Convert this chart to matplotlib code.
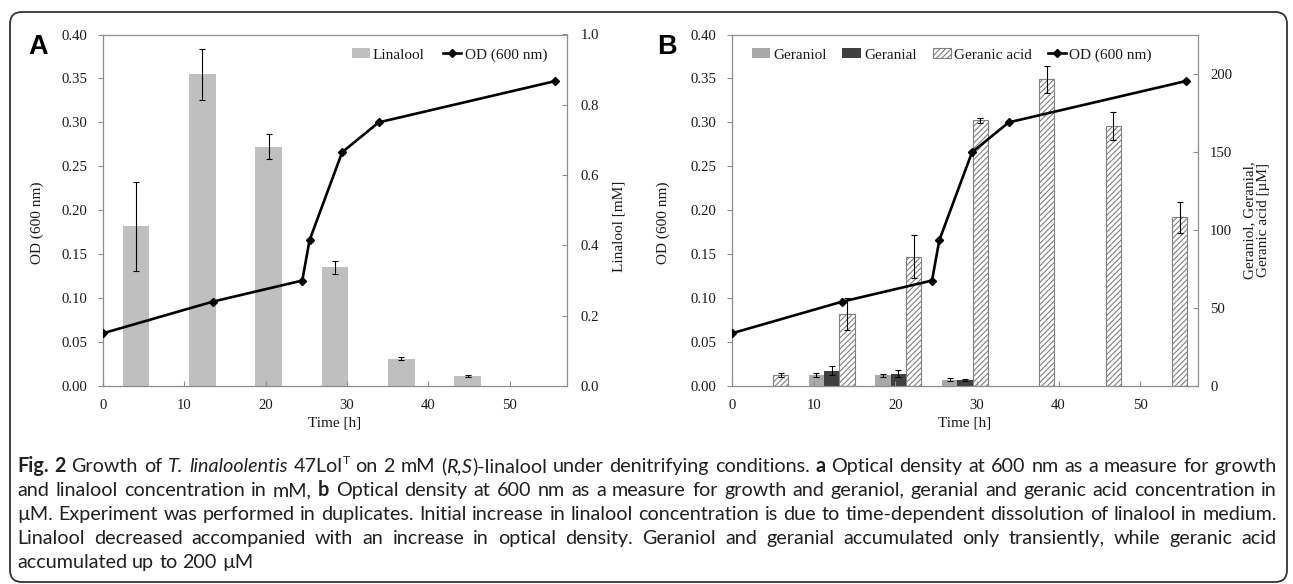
import numpy as np
import matplotlib.pyplot as plt
from matplotlib.patches import FancyBboxPatch, Patch
from matplotlib.lines import Line2D
from matplotlib.ticker import FormatStrFormatter, MultipleLocator
from matplotlib.transforms import IdentityTransform

# OD (600 nm) - same culture shown in both panels
od_time = [0, 13.5, 24.5, 25.4, 29.4, 33.9, 55.6]
od_value = [0.060, 0.096, 0.120, 0.166, 0.266, 0.300, 0.347]

# panel A: linalool [mM], one bar per sampling slot (7 slots, last one empty)
n_slots = 7
lin_slot = [0, 1, 2, 3, 4, 5]
lin_mM = [0.454, 0.887, 0.681, 0.338, 0.078, 0.028]
lin_err = [0.127, 0.073, 0.036, 0.019, 0.004, 0.003]

# panel B: concentrations [uM] per slot, nan = not detected
b_slot = [0, 1, 2, 3, 4, 5, 6]
nan = np.nan
geraniol = [nan, 6.9, 6.9, 4.1, nan, nan, nan]
geraniol_err = [nan, 1.2, 0.9, 0.8, nan, nan, nan]
geranial = [nan, 9.8, 7.9, 3.9, nan, nan, nan]
geranial_err = [nan, 2.8, 2.2, 0.5, nan, nan, nan]
geranic_acid = [6.9, 46.0, 83.0, 170.3, 196.6, 166.7, 108.1]
geranic_acid_err = [1.2, 10.3, 13.8, 1.6, 8.4, 9.0, 10.2]

caption = [
    "#Fig. 2# Growth of _T. linaloolentis_ 47Lol^T on 2 mM (_R,S_)-linalool under denitrifying conditions. #a# Optical density at 600 nm as a measure for growth",
    "and linalool concentration in mM, #b# Optical density at 600 nm as a measure for growth and geraniol, geranial and geranic acid concentration in",
    "µM. Experiment was performed in duplicates. Initial increase in linalool concentration is due to time-dependent dissolution of linalool in medium.",
    "Linalool decreased accompanied with an increase in optical density. Geraniol and geranial accumulated only transiently, while geranic acid",
    "accumulated up to 200 µM",
]

spine_c = '#8c8c8c'
txt_c = '#1a1a1a'
plt.rcParams['font.family'] = ['Liberation Serif', 'DejaVu Serif']
plt.rcParams['font.size'] = 11
plt.rcParams['xtick.labelsize'] = 10.6
plt.rcParams['ytick.labelsize'] = 10.6
plt.rcParams['hatch.linewidth'] = 0.8
plt.rcParams['text.color'] = txt_c
plt.rcParams['axes.labelcolor'] = txt_c
plt.rcParams['xtick.color'] = spine_c
plt.rcParams['ytick.color'] = spine_c
plt.rcParams['xtick.labelcolor'] = txt_c
plt.rcParams['ytick.labelcolor'] = txt_c

W, H = 1293, 584
fig = plt.figure(figsize=(W / 100, H / 100), dpi=100)
fig.patch.set_facecolor('white')


def make_panel(left_px, right_px):
    top_px, bot_px = 34.5, 386
    rect = [left_px / W, 1 - bot_px / H, (right_px - left_px) / W, (bot_px - top_px) / H]
    ax = fig.add_axes(rect)
    ax_r = ax.twinx()
    ax_c = ax_r.twiny()
    ax.set_zorder(ax_c.get_zorder() + 1)
    ax.patch.set_visible(False)
    for a in (ax_r, ax_c):
        for s in a.spines.values():
            s.set_visible(False)
    for s in ax.spines.values():
        s.set_color(spine_c)
        s.set_linewidth(0.9)
    ax_c.set_xlim(-0.5, n_slots - 0.5)
    ax_c.set_xticks([])

    ax.plot(od_time, od_value, color='black', lw=1.9, marker='D', ms=3.8, zorder=5)
    ax.set_xlim(0, 57.05)
    ax.set_ylim(0, 0.40)
    ax.set_xticks(range(0, 51, 10))
    ax.yaxis.set_major_locator(MultipleLocator(0.05))
    ax.yaxis.set_major_formatter(FormatStrFormatter('%.2f'))
    ax.tick_params(axis='y', direction='out', length=3.5, width=0.8, pad=7.5)
    ax.tick_params(axis='x', direction='in', length=3.5, width=0.8, pad=9.5)
    ax_r.tick_params(axis='y', direction='in', length=3.5, width=0.8, pad=10)
    ax.set_xlabel('Time [h]')
    ax.xaxis.set_label_coords(0.5, -0.086)
    ax.set_ylabel('OD (600 nm)')
    return ax, ax_r, ax_c


# ---- panel A ----
axA, axA_r, axA_c = make_panel(103, 567)
axA_c.bar(lin_slot, lin_mM, width=0.4, color='#bfbfbf', zorder=2)
axA_c.errorbar(lin_slot, lin_mM, yerr=lin_err, fmt='none', ecolor='black',
               elinewidth=0.8, capsize=2.2, capthick=0.8, zorder=3)
axA_r.set_ylim(0, 1.0)
axA_r.yaxis.set_major_locator(MultipleLocator(0.2))
axA_r.yaxis.set_major_formatter(FormatStrFormatter('%.1f'))
axA_r.set_ylabel('Linalool [mM]')
axA_r.yaxis.set_label_coords(1.098, 0.455)
axA.yaxis.set_label_coords(-0.128, 0.465)
axA.legend(handles=[Patch(facecolor='#bfbfbf', label='Linalool'),
                    Line2D([], [], color='black', lw=1.9, marker='D', ms=3.8, label='OD (600 nm)')],
           loc='center right', bbox_to_anchor=(0.957, 0.9417), ncol=2, frameon=False,
           borderpad=0, borderaxespad=0, handlelength=1.2, handleheight=0.6,
           handletextpad=0.2, columnspacing=1.2)

# ---- panel B ----
axB, axB_r, axB_c = make_panel(732, 1197.7)
bw = 0.23
xs = np.array(b_slot, dtype=float)
axB_c.bar(xs - bw, geraniol, width=bw, color='#a9a9a9', zorder=2)
axB_c.bar(xs, geranial, width=bw, color='#404040', zorder=2)
axB_c.bar(xs + bw, geranic_acid, width=bw, color='white', edgecolor='#808080',
          hatch='//////', linewidth=0.8, zorder=2)
for off, v, e in ((-bw, geraniol, geraniol_err), (0, geranial, geranial_err),
                  (bw, geranic_acid, geranic_acid_err)):
    axB_c.errorbar(xs + off, v, yerr=e, fmt='none', ecolor='black',
                   elinewidth=0.8, capsize=2.2, capthick=0.8, zorder=3)
axB_r.set_ylim(0, 225.4)
axB_r.set_yticks(range(0, 201, 50))
axB_r.set_ylabel('Geraniol, Geranial,\nGeranic acid [µM]', multialignment='center',
                 linespacing=1.15)
axB_r.yaxis.set_label_coords(1.097, 0.472)
axB_r.tick_params(axis='y', pad=9)
axB.yaxis.set_label_coords(-0.133, 0.465)
axB.legend(handles=[Patch(facecolor='#a9a9a9', label='Geraniol'),
                    Patch(facecolor='#404040', label='Geranial'),
                    Patch(facecolor='white', edgecolor='#808080', hatch='//////', lw=0.8,
                          label='Geranic acid'),
                    Line2D([], [], color='black', lw=1.9, marker='D', ms=3.8, label='OD (600 nm)')],
           loc='center left', bbox_to_anchor=(0.042, 0.9417), ncol=4, frameon=False,
           borderpad=0, borderaxespad=0, handlelength=1.2, handleheight=0.6,
           handletextpad=0.2, columnspacing=1.05)

# panel letters
fig.text(28 / W, 1 - 54 / H, 'A', family='Liberation Sans', fontweight='bold',
         fontsize=19.5, va='baseline', color='black')
fig.text(657 / W, 1 - 54 / H, 'B', family='Liberation Sans', fontweight='bold',
         fontsize=19.5, va='baseline', color='black')

# rounded frame around figure
frame = FancyBboxPatch((10, 2), 1277, 570, boxstyle='round,pad=0,rounding_size=12',
                       transform=IdentityTransform(), fill=False, ec='#333333', lw=1.3)
fig.add_artist(frame)


# ---- caption, justified ----
def parse_line(line):
    chars = []
    bold = ital = sup = False
    for ch in line:
        if ch == '#':
            bold = not bold
            continue
        if ch == '_':
            ital = not ital
            continue
        if ch == '^':
            sup = True
            continue
        chars.append((ch, (bold, ital, sup)))
        sup = False
    words, word = [], []
    for ch, st in chars + [(' ', None)]:
        if ch == ' ':
            if word:
                words.append(word)
            word = []
        elif word and word[-1][1] == st:
            word[-1][0] += ch
        else:
            word.append([ch, st])
    return words


cap_font = ['Lato', 'DejaVu Sans']
renderer = fig.canvas.get_renderer()


def put(x, y, s, st, size):
    b, it, sp = st
    fs = size * (0.62 if sp else 1)
    yy = y + (0.42 * size * 100 / 72 if sp else 0)
    return fig.text(x, yy, s, transform=IdentityTransform(), fontsize=fs,
                    fontweight='bold' if b else 'normal',
                    fontstyle='italic' if it else 'normal',
                    family=cap_font, va='baseline', ha='left', color='#231f20')


def width_of(s, st, size):
    t = put(0, 0, s, st, size)
    w = t.get_window_extent(renderer).width
    t.remove()
    return w


cap_left, cap_right = 17, 1277
parsed = [parse_line(l) for l in caption]
base = 12.0
plain = (False, False, False)
space0 = width_of('x x', plain, base) - width_of('xx', plain, base)
nat = []
for words in parsed[:4]:
    ww = sum(width_of(p, st, base) for w in words for p, st in w)
    nat.append(ww + space0 * (len(words) - 1))
size = base * (cap_right - cap_left) / max(nat) * 0.99

baselines = [472, 496, 520, 544, 568]
space = width_of('x x', plain, size) - width_of('xx', plain, size)
for i, words in enumerate(parsed):
    widths = [[width_of(p, st, size) for p, st in w] for w in words]
    total = sum(sum(w) for w in widths)
    if i < 4:
        gap = (cap_right - cap_left - total) / (len(words) - 1)
    else:
        gap = space
    x = cap_left
    y = H - baselines[i]
    for w, wl in zip(words, widths):
        for (p, st), pw in zip(w, wl):
            put(x, y, p, st, size)
            x += pw
        x += gap

fig.savefig('out.png', dpi=100, facecolor='white')
